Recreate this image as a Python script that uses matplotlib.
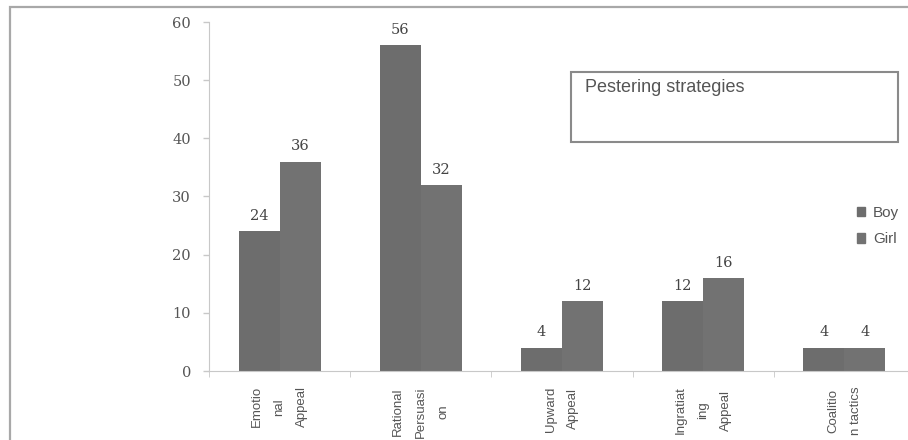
import numpy as np
import matplotlib.pyplot as plt
from matplotlib.patches import Rectangle, Patch

# pestering strategies by gender
strategies = ["Emotio\nnal\nAppeal", "Rational\nPersuasi\non", "Upward\nAppeal",
              "Ingratiat\ning\nAppeal", "Coalitio\nn tactics"]
boy = [24, 56, 4, 12, 4]
girl = [36, 32, 12, 16, 4]

W, H = 908, 440
fig = plt.figure(figsize=(W / 100, H / 100), dpi=100)

# outer chart frame (runs off the right/bottom edge)
fig.patches.append(Rectangle((10 / W, -0.2), 1.2, 1.2 - 7 / H, transform=fig.transFigure,
                             fill=False, edgecolor="#a8a8a8", linewidth=1.6, zorder=0))

ax = fig.add_axes([209 / W, (H - 371) / H, 706 / W, 349 / H])

x = np.arange(len(strategies))
w = 0.29
b1 = ax.bar(x - w / 2, boy, w, color="#6d6d6d", label="Boy", zorder=2)
b2 = ax.bar(x + w / 2, girl, w, color="#727272", label="Girl", zorder=2)

for bars, vals in ((b1, boy), (b2, girl)):
    for rect, v in zip(bars, vals):
        ax.annotate(str(v), (rect.get_x() + rect.get_width() / 2, v),
                    xytext=(0, 6), textcoords="offset points",
                    ha="center", va="bottom", fontsize=10.5,
                    family="DejaVu Serif", color="#444444")

ax.set_xlim(-0.5, len(strategies) - 0.5)
ax.set_ylim(0, 60)
ax.set_yticks(range(0, 61, 10))
ax.tick_params(axis="y", labelsize=10.5, colors="#c8c8c8", labelcolor="#555555",
               length=4, width=1, pad=9)
for lab in ax.get_yticklabels():
    lab.set_family("DejaVu Serif")

ax.set_xticks(x)
ax.set_xticklabels(strategies, rotation=90, fontsize=9.5, family="Liberation Sans",
                   color="#555555", linespacing=2.2, multialignment="center", va="top")
ax.set_xticks(np.arange(-0.5, len(strategies)), minor=True)
ax.tick_params(axis="x", which="major", length=0, pad=11)
ax.tick_params(axis="x", which="minor", length=4, colors="#c8c8c8")

for side in ("top", "right"):
    ax.spines[side].set_visible(False)
ax.spines["left"].set_color("#c8c8c8")
ax.spines["bottom"].set_color("#c8c8c8")
ax.set_facecolor("none")

# title box
fig.patches.append(Rectangle((571 / W, 1 - 142 / H), 327 / W, 70 / H, transform=fig.transFigure,
                             fill=False, edgecolor="#8a8a8a", linewidth=1.5))
fig.text(585 / W, 1 - 88 / H, "Pestering strategies", fontsize=13,
         family="Liberation Sans", color="#555555", va="center", ha="left")

fig.legend(handles=[Patch(color="#6d6d6d"), Patch(color="#727272")], labels=["Boy", "Girl"],
           loc="center left", bbox_to_anchor=(843 / W, 1 - 226 / H), frameon=False,
           handlelength=0.55, handleheight=0.55, handletextpad=0.5, labelspacing=0.85,
           prop={"family": "Liberation Sans", "size": 11}, labelcolor="#555555")

fig.savefig("out.png", dpi=100, facecolor="white")
